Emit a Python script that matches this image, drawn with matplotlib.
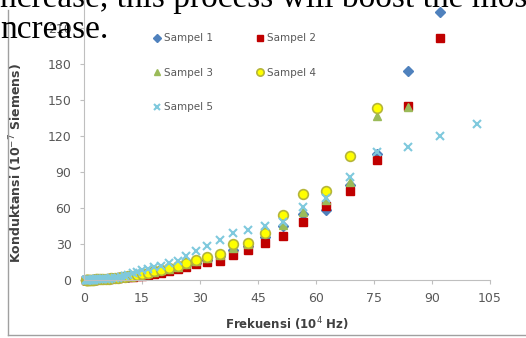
import matplotlib.pyplot as plt
from matplotlib.lines import Line2D

# frequency (10^4 Hz)
freq = [0.5, 0.6, 0.7, 0.8, 0.9, 1.0, 1.2, 1.4, 1.6, 1.8, 2.0, 2.3, 2.6, 3.0, 3.4,
        3.9, 4.4, 5.0, 5.7, 6.4, 7.1, 7.9, 8.7, 9.6, 10.5, 11.5, 12.6, 13.8, 15.1,
        16.6, 18.2, 20.0, 22.0, 24.2, 26.5, 29.0, 31.8, 35.1, 38.5, 42.4, 46.8,
        51.4, 56.6, 62.5, 68.7, 75.7, 83.7, 92.0, 101.6]

low = [0.1, 0.1, 0.1, 0.1, 0.1, 0.2, 0.2, 0.2, 0.3, 0.3, 0.3, 0.4, 0.4, 0.5, 0.6,
       0.7, 0.8, 0.9, 1.0, 1.2, 1.4, 1.6, 1.8, 2.1]

sampel1 = low + [2.5, 2.9, 3.4, 4.0, 4.8, 5.6, 6.6, 7.8, 9.0, 10.5, 12.5, 14.5,
                 17, 20, 25, 28, 36, 45, 55, 58, 79, 105, 174, 223]
sampel2 = low + [2.2, 2.5, 2.8, 3.2, 3.6, 4.3, 5.0, 6.0, 7.5, 9.0, 11, 13,
                 15, 16, 21, 25, 31, 37, 48, 62, 74, 100, 145, 202]
sampel3 = low + [2.6, 3.0, 3.5, 4.1, 4.8, 5.7, 6.7, 8.0, 9.5, 11, 13.5, 16,
                 18, 21, 27, 30, 43, 46, 57, 67, 82, 137, 144]
sampel4 = low + [2.6, 3.1, 3.7, 4.4, 5.2, 6.2, 7.3, 8.5, 10, 11.5, 14, 17,
                 19, 22, 30, 31, 39, 54, 72, 74, 103, 143]
sampel5 = low + [3.5, 4.5, 5.5, 6.5, 8.0, 9.5, 11, 12, 14, 16, 20, 24,
                 28, 33, 39, 42, 45, 48, 61, 68, 86, 107, 111, 120, 130]

labels = ['Sampel 1', 'Sampel 2', 'Sampel 3', 'Sampel 4', 'Sampel 5']
series = [sampel1, sampel2, sampel3, sampel4, sampel5]
styles = [
    dict(marker='D', color='#4F81BD', mec='#4F81BD', ms=5),
    dict(marker='s', color='#C00000', mec='#C00000', ms=6),
    dict(marker='^', color='#9BBB59', mec='#9BBB59', ms=6),
    dict(marker='o', color='#FFFF00', mec='#B5B53A', ms=7, mew=1.2),
    dict(marker='x', color='#7FC9DD', mec='#7FC9DD', ms=6, mew=1.5),
]

fig = plt.figure(figsize=(5.26, 3.38), dpi=100)
ax = fig.add_axes([84 / 526, (338 - 280) / 338, 406 / 526, 288 / 338])

handles = []
for lab, ys, st in zip(labels, series, styles):
    ax.plot(freq[:len(ys)], ys, ls='none', label=lab, clip_on=False, **st)
    handles.append(Line2D([], [], ls='none', **{**st, 'ms': st['ms'] * 0.75}))

ax.set_xlim(0, 105)
ax.set_ylim(0, 240)
ax.set_xticks(range(0, 106, 15))
ax.set_yticks(range(0, 211, 30))
for s in ['top', 'right']:
    ax.spines[s].set_visible(False)
for s in ['left', 'bottom']:
    ax.spines[s].set_color('#BFBFBF')
ax.tick_params(colors='#BFBFBF', labelcolor='#595959', labelsize=9, length=3)
ax.tick_params(axis='x', pad=6)
ax.tick_params(axis='y', pad=6)
ax.set_xlabel('Frekuensi (10$^4$ Hz)', fontsize=8.5, fontweight='bold', color='#404040', labelpad=7)
ax.set_ylabel('Konduktansi (10$^{-7}$ Siemens)', fontsize=9, fontweight='bold', color='#404040')
ax.yaxis.set_label_coords(-0.145, 0.405)

order = [0, 2, 4, 1, 3]
leg = ax.legend([handles[i] for i in order], [labels[i] for i in order], ncol=2,
                loc='upper left', bbox_to_anchor=(0.16, 0.875), frameon=False,
                fontsize=7.5, labelspacing=2.35, columnspacing=4.3,
                handlelength=0.6, handletextpad=0.3, borderpad=0)
for t in leg.get_texts():
    t.set_color('#595959')

# chart frame
fig.add_artist(Line2D([8 / 526, 8 / 526], [3 / 338, 1 - 10 / 338], color='#A0A0A0', lw=1))
fig.add_artist(Line2D([8 / 526, 1], [3 / 338, 3 / 338], color='#A0A0A0', lw=1))

# surrounding document text
fig.text(0, 1 - 7 / 338, 'ncrease, this process will boost the most', family='Liberation Serif',
         fontsize=24, va='baseline', ha='left', color='black')
fig.text(0, 1 - 38 / 338, 'ncrease.', family='Liberation Serif', fontsize=24,
         va='baseline', ha='left', color='black')

fig.savefig('out.png', dpi=100)
